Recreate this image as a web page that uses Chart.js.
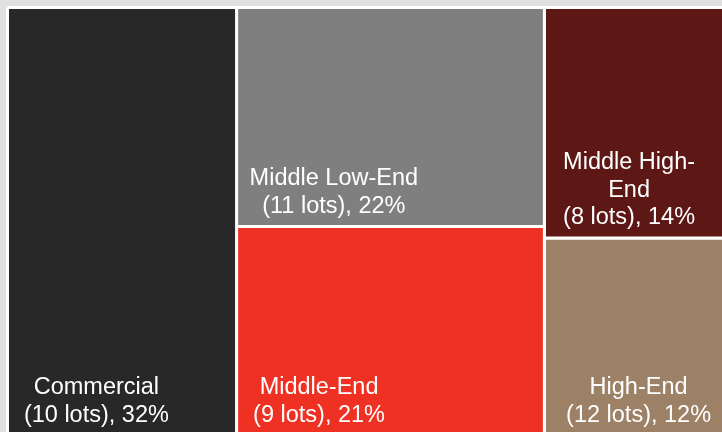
<!DOCTYPE html>
<html>
<head>
<meta charset="utf-8">
<script src="https://cdn.jsdelivr.net/npm/chart.js@4/dist/chart.umd.min.js"></script>
<style>
  html, body { margin: 0; padding: 0; overflow: hidden; background: #e1e1e1; }
  canvas { display: block; }
</style>
</head>
<body>
<canvas id="lotsMap" width="740" height="445"></canvas>
<script>
// lot segments, tile order = column by column, top to bottom
var categories = ["Commercial", "Middle Low-End", "Middle-End", "Middle High-End", "High-End"];
var lots = [10, 11, 9, 8, 12];
var shares = [32, 22, 21, 14, 12];
var columnOf = [0, 1, 1, 2, 2];

var colors = ["#282828", "#7f7f7f", "#ef3124", "#5d1816", "#9c8166"];
var labelAnchorX = [0.388, 0.316, 0.268, 0.455, 0.506]; // where the label sits across its tile

// columns get width by their summed share, tiles split the column height by share
var colSums = [];
shares.forEach(function (s, i) { colSums[columnOf[i]] = (colSums[columnOf[i]] || 0) + s; });
var total = colSums.reduce(function (a, b) { return a + b; }, 0);

var tiles = shares.map(function (s, i) {
  var c = columnOf[i];
  var x0 = 0, y0 = 0;
  for (var k = 0; k < c; k++) x0 += colSums[k];
  for (var j = 0; j < i; j++) if (columnOf[j] === c) y0 += shares[j] / colSums[c];
  return { x0: x0, x1: x0 + colSums[c], y0: y0, y1: y0 + s / colSums[c] };
});

function wrap(ctx, text, maxWidth) {
  var parts = text.split(/(?<=[ -])/);
  var out = [], line = "";
  parts.forEach(function (p) {
    if (line && ctx.measureText((line + p).trim()).width > maxWidth) {
      out.push(line.trim());
      line = p;
    } else {
      line += p;
    }
  });
  if (line) out.push(line.trim());
  return out;
}

var tileLabels = {
  id: "tileLabels",
  afterDatasetsDraw: function (chart) {
    var ctx = chart.ctx, x = chart.scales.x, y = chart.scales.y;
    ctx.save();
    ctx.font = '23.5px "Liberation Sans", Arial, sans-serif';
    ctx.fillStyle = "#ffffff";
    ctx.textAlign = "center";
    ctx.textBaseline = "alphabetic";
    tiles.forEach(function (t, i) {
      var left = x.getPixelForValue(t.x0), right = x.getPixelForValue(t.x1);
      var bottom = y.getPixelForValue(t.y1);
      var lines = wrap(ctx, categories[i], right - left - 24);
      lines.push("(" + lots[i] + " lots), " + shares[i] + "%");
      var cx = left + (right - left) * labelAnchorX[i];
      lines.forEach(function (s, k) {
        ctx.fillText(s, cx, bottom - 13.5 - (lines.length - 1 - k) * 27.8);
      });
    });
    ctx.restore();
  }
};

var datasets = tiles.map(function (t, i) {
  return {
    label: categories[i],
    data: [
      { x: t.x0, y: t.y0 }, { x: t.x1, y: t.y0 },
      { x: t.x1, y: t.y1 }, { x: t.x0, y: t.y1 }, { x: t.x0, y: t.y0 }
    ],
    showLine: true,
    fill: "shape",
    tension: 0,
    backgroundColor: colors[i],
    borderColor: "#ffffff",
    borderWidth: 3,
    borderJoinStyle: "miter",
    pointRadius: 0,
    clip: false
  };
});

new Chart(document.getElementById("lotsMap").getContext("2d"), {
  type: "scatter",
  data: { datasets: datasets },
  options: {
    responsive: false,
    devicePixelRatio: 1,
    animation: false,
    events: [],
    layout: { padding: { left: 7.5, top: 7.5, right: 9.5, bottom: 9.5 } },
    scales: {
      x: { type: "linear", min: 0, max: total, display: false },
      y: { type: "linear", min: 0, max: 1, reverse: true, display: false }
    },
    plugins: {
      legend: { display: false },
      tooltip: { enabled: false }
    }
  },
  plugins: [tileLabels]
});
</script>
</body>
</html>
